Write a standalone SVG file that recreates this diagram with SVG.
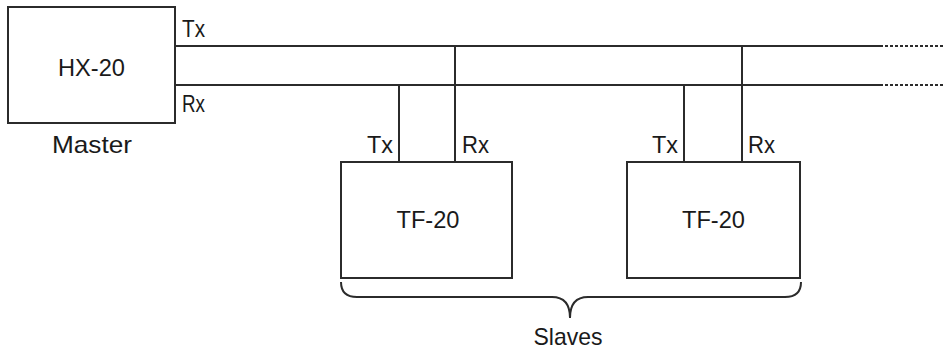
<svg xmlns="http://www.w3.org/2000/svg" width="944" height="351" viewBox="0 0 944 351">
<style>
.box{fill:#fff;stroke:#2b2b2b;stroke-width:2}
.ln{fill:none;stroke:#2b2b2b;stroke-width:2}
.dash{fill:none;stroke:#2b2b2b;stroke-width:2;stroke-dasharray:3 2}
text{font-family:"Liberation Sans",Arial,sans-serif;font-size:24px;fill:#1a1a1a}
.c{text-anchor:middle}
</style>
<rect width="944" height="351" fill="#fff"/>
<g id="connectors">
<path class="ln" d="M175,46 H880 M175,85 H880"/>
<path class="dash" d="M880,46 H944 M880,85 H944"/>
<path class="ln" d="M455,46 V162 M399,85 V162 M742,46 V162 M684,85 V162"/>
</g>
<g id="master">
<rect class="box" x="8" y="7" width="167" height="116"/>
<text class="c" x="91.5" y="76" textLength="67" lengthAdjust="spacingAndGlyphs">HX-20</text>
<text x="182" y="37" textLength="23" lengthAdjust="spacingAndGlyphs">Tx</text>
<text x="182" y="112" textLength="23" lengthAdjust="spacingAndGlyphs">Rx</text>
<text class="c" x="92" y="153" textLength="80" lengthAdjust="spacingAndGlyphs">Master</text>
</g>
<g id="slave1">
<rect class="box" x="341" y="162" width="171" height="116"/>
<text class="c" x="428" y="228" textLength="63" lengthAdjust="spacingAndGlyphs">TF-20</text>
<text x="367" y="153" textLength="26" lengthAdjust="spacingAndGlyphs">Tx</text>
<text x="462" y="153" textLength="27" lengthAdjust="spacingAndGlyphs">Rx</text>
</g>
<g id="slave2">
<rect class="box" x="627" y="162" width="173" height="116"/>
<text class="c" x="713.5" y="228" textLength="63" lengthAdjust="spacingAndGlyphs">TF-20</text>
<text x="652" y="153" textLength="26" lengthAdjust="spacingAndGlyphs">Tx</text>
<text x="748" y="153" textLength="27" lengthAdjust="spacingAndGlyphs">Rx</text>
</g>
<g id="slaves">
<path class="ln" d="M341,282 Q341,297 357,297 L552,297 Q570,297 570,318 Q570,297 588,297 L785,297 Q801,297 801,282"/>
<text class="c" x="568" y="345" textLength="69" lengthAdjust="spacingAndGlyphs">Slaves</text>
</g>
</svg>
